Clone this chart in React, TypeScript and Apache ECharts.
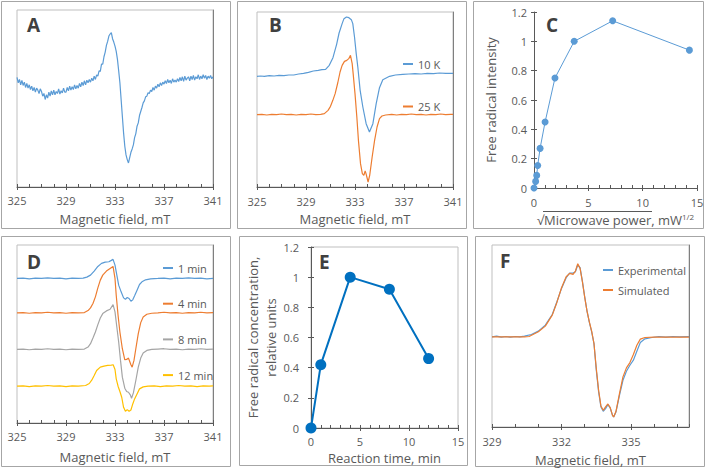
import React, { useEffect, useRef } from "react";
import * as echarts from "echarts";

// ---------------- DATA ----------------
// Panel A: EPR spectrum, sweep 325–341 mT, 0.1 mT step (arbitrary intensity units)
const A_FIELD_START = 325;
const A_FIELD_STEP = 0.1;
const A_SIGNAL = [
  18, 2, 12, -4, 9, -6, 4, -12, 0, -14,
  -4, -18, -8, -22, -12, -26, -14, -20, -30, -16,
  -24, -38, -30, -48, -34, -44, -26, -38, -22, -34,
  -20, -34, -24, -30, -16, -32, -22, -28, -14, -26,
  -26, -12, -22, -8, -20, -10, -18, -4, -16, -6,
  -14, 0, -10, 4, -6, 8, -4, 10, 2, 12,
  4, 16, 8, 22, 12, 26, 22, 38, 36, 58,
  58, 80, 94, 114, 126, 142, 148, 152, 134, 124,
  112, 96, 72, 38, 2, -48, -98, -148, -188, -214,
  -228, -238, -222, -206, -196, -184, -162, -150, -128, -118,
  -96, -84, -72, -58, -52, -40, -38, -28, -30, -20,
  -24, -12, -20, -8, -14, -2, -10, 2, -6, 4,
  -2, 8, 0, 12, 2, 10, 0, 14, 4, 10,
  4, 14, 6, 18, 8, 20, 6, 22, 10, 16,
  20, 8, 22, 12, 24, 10, 20, 14, 26, 12,
  22, 14, 26, 16, 24, 12, 22, 16, 24, 14, 20,
];

// Panel B: spectra at 10 K and 25 K [field mT, offset intensity]
const B_10K = [
  [325.0, 332], [325.3, 333], [325.6, 332], [326.0, 334], [326.4, 333], [326.8, 335], [327.2, 334],
  [327.6, 336], [328.0, 336], [328.4, 339], [328.8, 341], [329.2, 344], [329.6, 348], [330.0, 350],
  [330.3, 352], [330.6, 353], [330.9, 365], [331.2, 388], [331.5, 428], [331.7, 462], [331.95, 490],
  [332.1, 505], [332.3, 510], [332.5, 508], [332.7, 502], [332.82, 490], [332.96, 450], [333.1, 400],
  [333.23, 360], [333.42, 290], [333.64, 240], [333.91, 190], [334.18, 165], [334.46, 190],
  [334.73, 250], [335.0, 298], [335.27, 322], [335.82, 332], [336.3, 336], [336.9, 338], [337.4, 339],
  [337.9, 340], [338.4, 339], [338.9, 341], [339.4, 340], [339.9, 342], [340.4, 341], [341.0, 341],
];
const B_25K = [
  [325.0, 217], [325.4, 218], [325.8, 216], [326.2, 218], [326.6, 217], [327.0, 219], [327.4, 217],
  [327.8, 218], [328.2, 216], [328.6, 218], [329.0, 217], [329.4, 219], [329.8, 217], [330.2, 218],
  [330.5, 220], [330.8, 230], [331.0, 242], [331.19, 260], [331.38, 280], [331.59, 312], [331.78, 345],
  [331.95, 365], [332.14, 377], [332.33, 380], [332.49, 385], [332.63, 395], [332.77, 370],
  [332.85, 340], [333.0, 280], [333.15, 210], [333.28, 140], [333.45, 70], [333.6, 40], [333.72, 35],
  [333.83, 48], [333.9, 40], [334.07, 15], [334.2, 35], [334.4, 90], [334.6, 140], [334.8, 180],
  [335.0, 205], [335.2, 213], [335.5, 216], [336.0, 218], [336.4, 216], [336.8, 218], [337.2, 217],
  [337.6, 219], [338.0, 217], [338.4, 218], [338.8, 216], [339.2, 218], [339.6, 217], [340.0, 219],
  [340.4, 217], [340.8, 218], [341.0, 218],
];

// Panel C: saturation curve
const C_SQRT_POWER = [0, 0.15, 0.25, 0.34, 0.56, 1.02, 1.93, 3.7, 7.24, 14.3];
const C_INTENSITY = [0, 0.045, 0.086, 0.154, 0.27, 0.45, 0.75, 1.0, 1.14, 0.94];

// Panel D: spectra vs reaction time [field mT, offset intensity]
const D_1MIN = [
  [325.0, 432], [325.5, 433], [326.0, 431], [326.5, 433], [327.0, 432], [327.5, 434], [328.0, 432],
  [328.5, 433], [329.0, 431], [329.5, 433], [330.0, 432], [330.4, 433], [330.7, 436], [331.0, 442],
  [331.3, 454], [331.6, 468], [331.9, 477], [332.2, 481], [332.5, 482], [332.7, 486], [332.84, 489],
  [333.0, 472], [333.15, 442], [333.3, 412], [333.5, 392], [333.7, 374], [333.85, 370], [334.0, 375],
  [334.15, 372], [334.3, 364], [334.45, 368], [334.6, 380], [334.8, 397], [335.0, 414], [335.2, 422],
  [335.5, 428], [335.9, 431], [336.5, 432], [337.0, 433], [337.5, 431], [338.0, 433], [338.5, 432],
  [339.0, 434], [339.5, 432], [340.0, 433], [340.5, 431], [341.0, 432],
];
const D_4MIN = [
  [325.0, 329], [325.5, 330], [326.0, 328], [326.5, 330], [327.0, 329], [327.5, 331], [328.0, 329],
  [328.5, 330], [329.0, 328], [329.5, 330], [330.0, 329], [330.5, 330], [330.8, 336], [331.0, 344],
  [331.2, 357], [331.4, 377], [331.6, 404], [331.8, 427], [332.0, 442], [332.3, 454], [332.6, 462],
  [332.84, 468], [333.0, 432], [333.1, 382], [333.25, 322], [333.4, 272], [333.6, 222], [333.8, 189],
  [333.95, 190], [334.1, 194], [334.3, 174], [334.4, 167], [334.55, 187], [334.7, 222], [334.9, 267],
  [335.1, 300], [335.3, 317], [335.6, 325], [336.0, 328], [336.5, 329], [337.0, 331], [337.5, 329],
  [338.0, 330], [338.5, 328], [339.0, 330], [339.5, 329], [340.0, 331], [340.5, 329], [341.0, 330],
];
const D_8MIN = [
  [325.0, 220], [325.5, 221], [326.0, 219], [326.5, 221], [327.0, 220], [327.5, 222], [328.0, 220],
  [328.5, 221], [329.0, 219], [329.5, 221], [330.0, 220], [330.5, 221], [330.8, 227], [331.0, 237],
  [331.2, 254], [331.4, 272], [331.6, 294], [331.8, 314], [332.0, 327], [332.3, 335], [332.6, 340],
  [332.84, 354], [333.0, 332], [333.15, 287], [333.3, 242], [333.45, 187], [333.6, 137], [333.8, 104],
  [333.95, 94], [334.1, 92], [334.25, 84], [334.35, 74], [334.5, 90], [334.7, 127], [334.9, 167],
  [335.1, 194], [335.3, 209], [335.6, 217], [336.0, 220], [336.5, 221], [337.0, 222], [337.5, 220],
  [338.0, 221], [338.5, 219], [339.0, 221], [339.5, 220], [340.0, 222], [340.5, 220], [341.0, 221],
];
const D_12MIN = [
  [325.0, 110], [325.5, 111], [326.0, 109], [326.5, 111], [327.0, 110], [327.5, 112], [328.0, 110],
  [328.5, 111], [329.0, 109], [329.5, 111], [330.0, 110], [330.6, 112], [330.9, 118], [331.1, 128],
  [331.3, 142], [331.5, 157], [331.8, 167], [332.1, 170], [332.4, 172], [332.7, 173], [332.85, 174],
  [333.0, 160], [333.1, 132], [333.25, 110], [333.4, 94], [333.55, 77], [333.7, 47], [333.85, 35],
  [334.0, 40], [334.15, 35], [334.3, 39], [334.45, 57], [334.6, 72], [334.8, 87], [335.0, 102],
  [335.3, 108], [335.7, 110], [336.2, 111], [336.7, 109], [337.2, 111], [337.7, 110], [338.2, 112],
  [338.7, 110], [339.2, 111], [339.7, 109], [340.2, 111], [340.7, 110], [341.0, 111],
];

// Panel E: kinetics
const E_TIME = [0, 1, 4, 8, 12];
const E_CONC = [0, 0.42, 1.0, 0.92, 0.46];

// Panel F: experimental vs simulated [field mT, intensity]
const F_EXP = [
  [329.0, 270], [329.2, 272], [329.4, 269], [329.6, 271], [329.8, 269], [330.0, 271], [330.2, 270],
  [330.4, 272], [330.7, 277], [331.0, 287], [331.3, 305], [331.6, 337], [331.8, 375], [332.0, 415],
  [332.2, 447], [332.35, 461], [332.5, 461], [332.6, 465], [332.7, 485], [332.8, 477], [332.9, 437],
  [333.0, 390], [333.1, 347], [333.2, 313], [333.3, 285], [333.4, 250], [333.5, 170], [333.6, 105],
  [333.7, 60], [333.8, 47], [333.9, 55], [334.0, 67], [334.1, 57], [334.2, 35], [334.25, 30],
  [334.35, 45], [334.5, 95], [334.65, 140], [334.8, 167], [334.95, 185], [335.1, 200], [335.25, 227],
  [335.4, 253], [335.6, 264], [335.9, 268], [336.2, 271], [336.5, 269], [336.8, 271], [337.1, 270],
  [337.5, 271],
];
const F_SIM = [
  [329.0, 270], [330.4, 270], [330.6, 271], [331.0, 285], [331.3, 302], [331.6, 335], [331.8, 373],
  [332.0, 417], [332.2, 450], [332.35, 460], [332.5, 457], [332.6, 467], [332.7, 489], [332.8, 475],
  [332.9, 435], [333.0, 388], [333.1, 347], [333.2, 315], [333.3, 287], [333.4, 250], [333.5, 175],
  [333.6, 110], [333.7, 63], [333.8, 50], [333.9, 60], [334.0, 69], [334.1, 58], [334.2, 35],
  [334.25, 30], [334.35, 47], [334.5, 100], [334.65, 150], [334.8, 177], [334.95, 193], [335.1, 217],
  [335.25, 245], [335.4, 263], [335.6, 268], [336.0, 269], [337.5, 269],
];

const F_TICK_LABELS = [329, 332, 335];
const PANEL_LETTERS = ["A", "B", "C", "D", "E", "F"];

// ---------------- STYLE ----------------
const TEXT = "#595959";
const AXIS = "#595959";
const FONT = "'Open Sans', 'DejaVu Sans', sans-serif";
const BLUE = "#5B9BD5";
const ORANGE = "#ED7D31";
const GRAY = "#A5A5A5";
const YELLOW = "#FFC000";
const DARKBLUE = "#0070C0";

function xAxes(grid: number, min: number, max: number, interval: number, minorSplit: number,
  margin: number, nameGap: number, name: string, nameStyle: any = {}) {
  const main: any = {
    type: "value", gridIndex: grid, position: "bottom", min, max, interval,
    name, nameLocation: "middle", nameGap,
    nameTextStyle: { color: TEXT, fontSize: 13, fontFamily: FONT, ...nameStyle },
    axisLine: { show: true, onZero: false, lineStyle: { color: AXIS, width: 1 } },
    axisTick: { show: true, inside: true, length: 3, lineStyle: { color: AXIS } },
    minorTick: { show: minorSplit > 1, splitNumber: minorSplit, length: 3, lineStyle: { color: AXIS } },
    axisLabel: { color: TEXT, fontSize: 11, fontFamily: FONT, margin },
    splitLine: { show: false },
    minorSplitLine: { show: false },
  };
  const outer: any = {
    type: "value", gridIndex: grid, position: "bottom", min, max, interval,
    axisLine: { show: false, onZero: false },
    axisTick: { show: true, inside: false, length: 3, lineStyle: { color: AXIS } },
    axisLabel: { show: false },
    splitLine: { show: false },
  };
  return [main, outer];
}

function yAxes(grid: number, margin: number, nameGap: number, name: string, nameStyle: any = {}) {
  const main: any = {
    type: "value", gridIndex: grid, position: "left", min: 0, max: 1.2, interval: 0.2,
    name, nameLocation: "middle", nameGap, nameRotate: 90,
    nameTextStyle: { color: TEXT, fontSize: 13, fontFamily: FONT, ...nameStyle },
    axisLine: { show: true, onZero: false, lineStyle: { color: AXIS, width: 1 } },
    axisTick: { show: true, inside: true, length: 3, lineStyle: { color: AXIS } },
    axisLabel: { color: TEXT, fontSize: 11, fontFamily: FONT, margin },
    splitLine: { show: false },
  };
  const outer: any = {
    type: "value", gridIndex: grid, position: "left", min: 0, max: 1.2, interval: 0.2,
    axisLine: { show: false, onZero: false },
    axisTick: { show: true, inside: false, length: 3, lineStyle: { color: AXIS } },
    axisLabel: { show: false },
    splitLine: { show: false },
  };
  return [main, outer];
}

const hiddenY = (grid: number, min: number, max: number) => ({ type: "value", gridIndex: grid, min, max, show: false });
const rightBorder = (grid: number) => ({
  type: "value", gridIndex: grid, position: "right", min: 0, max: 1,
  axisLine: { show: true, onZero: false, lineStyle: { color: "#7F7F7F", width: 1 } },
  axisTick: { show: false }, axisLabel: { show: false }, splitLine: { show: false },
});

const spectrum = (name: string, xi: number, yi: number, data: any[], color: string) => ({
  type: "line", name, xAxisIndex: xi, yAxisIndex: yi, data, symbol: "none", showSymbol: false,
  color, lineStyle: { width: 1.2, color }, silent: true, emphasis: { disabled: true },
});

const legendBase = {
  orient: "vertical", padding: 0, itemWidth: 10, itemHeight: 2, icon: "rect", selectedMode: false,
  textStyle: { color: TEXT, fontSize: 11, fontFamily: FONT },
};

export default function App() {
  const ref = useRef<HTMLDivElement>(null);
  useEffect(() => {
    document.body.style.margin = "0";
    if (!ref.current) return;
    const chart = echarts.init(ref.current, null, { renderer: "svg" });

    const gridBorder = { show: true, borderColor: "#BFBFBF", borderWidth: 1, backgroundColor: "transparent" };
    const [axA, axA2] = xAxes(0, 325, 341, 4, 4, 8, 25, "Magnetic field, mT");
    const [axB, axB2] = xAxes(1, 325, 341, 4, 4, 9, 25, "Magnetic field, mT");
    const [axC, axC2] = xAxes(2, 0, 15, 5, 5, 9, 24, "{t|√Microwave power, mW}{s|1/2}", {
      rich: {
        t: { color: TEXT, fontSize: 13, fontFamily: FONT, lineHeight: 16 },
        s: { color: TEXT, fontSize: 8, fontFamily: FONT, lineHeight: 8, verticalAlign: "top" },
      },
    });
    const [axD, axD2] = xAxes(3, 325, 341, 4, 4, 8, 27, "Magnetic field, mT");
    const [axE, axE2] = xAxes(4, 0, 15, 5, 5, 8, 23, "Reaction time, min");
    const [axF, axF2] = xAxes(5, 329, 337.5, 1, 1, 9, 26, "Magnetic field, mT");
    axF.axisLabel.customValues = F_TICK_LABELS;
    axF2.axisTick.customValues = F_TICK_LABELS;

    const [yC, yC2] = yAxes(2, 7, 37, "Free radical intensity");
    const [yE, yE2] = yAxes(4, 12, 30, "Free radical concentration,\nrelative units", { lineHeight: 18 });

    const panels = [
      [1, 1, 229, 227], [237, 1, 229, 227], [473, 1, 230, 227],
      [1, 236, 229, 230], [239, 236, 228, 229], [475, 236, 229, 230],
    ];
    const letterPos = [[27, 25], [269, 25], [546, 25], [27, 262], [319, 261.5], [500, 260.5]];

    chart.setOption({
      animation: false,
      backgroundColor: "#ffffff",
      grid: [
        { left: 17, top: 10, width: 196, height: 177, ...gridBorder },
        { left: 257, top: 12, width: 196, height: 175, ...gridBorder },
        { left: 534, top: 12, width: 163, height: 176, show: false },
        { left: 17, top: 245, width: 196, height: 178, ...gridBorder },
        { left: 311, top: 247, width: 147, height: 181, ...gridBorder },
        { left: 492, top: 245, width: 197, height: 182, ...gridBorder },
      ],
      xAxis: [axA, axA2, axB, axB2, axC, axC2, axD, axD2, axE, axE2, axF, axF2],
      yAxis: [
        hiddenY(0, -310, 220), hiddenY(1, 0, 525), yC, yC2, hiddenY(3, 0, 532), yE, yE2, hiddenY(5, 0, 545),
        rightBorder(0), rightBorder(1), rightBorder(3), rightBorder(5),
      ],
      legend: [
        { ...legendBase, data: ["10 K", "25 K"], left: 403, top: 58.5, itemGap: 31.5 },
        { ...legendBase, data: ["1 min", "4 min", "8 min", "12 min"], left: 163, top: 262.5, itemGap: 24.7 },
        { ...legendBase, data: ["Experimental", "Simulated"], left: 603, top: 264.5, itemGap: 9 },
      ],
      series: [
        spectrum("A spectrum", 0, 0, A_SIGNAL.map((v, i) => [A_FIELD_START + i * A_FIELD_STEP, v]), BLUE),
        spectrum("10 K", 2, 1, B_10K, BLUE),
        spectrum("25 K", 2, 1, B_25K, ORANGE),
        {
          type: "line", name: "Intensity", xAxisIndex: 4, yAxisIndex: 2,
          data: C_SQRT_POWER.map((x, i) => [x, C_INTENSITY[i]]),
          symbol: "circle", symbolSize: 7, color: BLUE, itemStyle: { color: BLUE },
          lineStyle: { width: 1, color: BLUE }, silent: true,
        },
        spectrum("1 min", 6, 4, D_1MIN, BLUE),
        spectrum("4 min", 6, 4, D_4MIN, ORANGE),
        spectrum("8 min", 6, 4, D_8MIN, GRAY),
        spectrum("12 min", 6, 4, D_12MIN, YELLOW),
        {
          type: "line", name: "Concentration", xAxisIndex: 8, yAxisIndex: 5,
          data: E_TIME.map((x, i) => [x, E_CONC[i]]),
          symbol: "circle", symbolSize: 11, color: DARKBLUE, itemStyle: { color: DARKBLUE },
          lineStyle: { width: 2, color: DARKBLUE }, silent: true,
        },
        spectrum("Experimental", 10, 7, F_EXP, BLUE),
        spectrum("Simulated", 10, 7, F_SIM, ORANGE),
      ],
      graphic: [
        ...panels.map(([x, y, w, h]) => ({
          type: "rect", silent: true, z: -1,
          shape: { x: x + 0.5, y: y + 0.5, width: w, height: h },
          style: { fill: "none", stroke: "#A6A6A6", lineWidth: 1 },
        })),
        ...PANEL_LETTERS.map((t, i) => ({
          type: "text", silent: true, x: letterPos[i][0], y: letterPos[i][1],
          style: { text: t, fontSize: 19, fontWeight: "bold", fontFamily: FONT, fill: "#404040", verticalAlign: "middle" },
        })),
        { type: "line", silent: true, shape: { x1: 543, y1: 211.5, x2: 652, y2: 211.5 }, style: { stroke: TEXT, lineWidth: 1 } },
      ],
    });
    return () => chart.dispose();
  }, []);
  return <div ref={ref} style={{ width: 709, height: 470 }} />;
}
